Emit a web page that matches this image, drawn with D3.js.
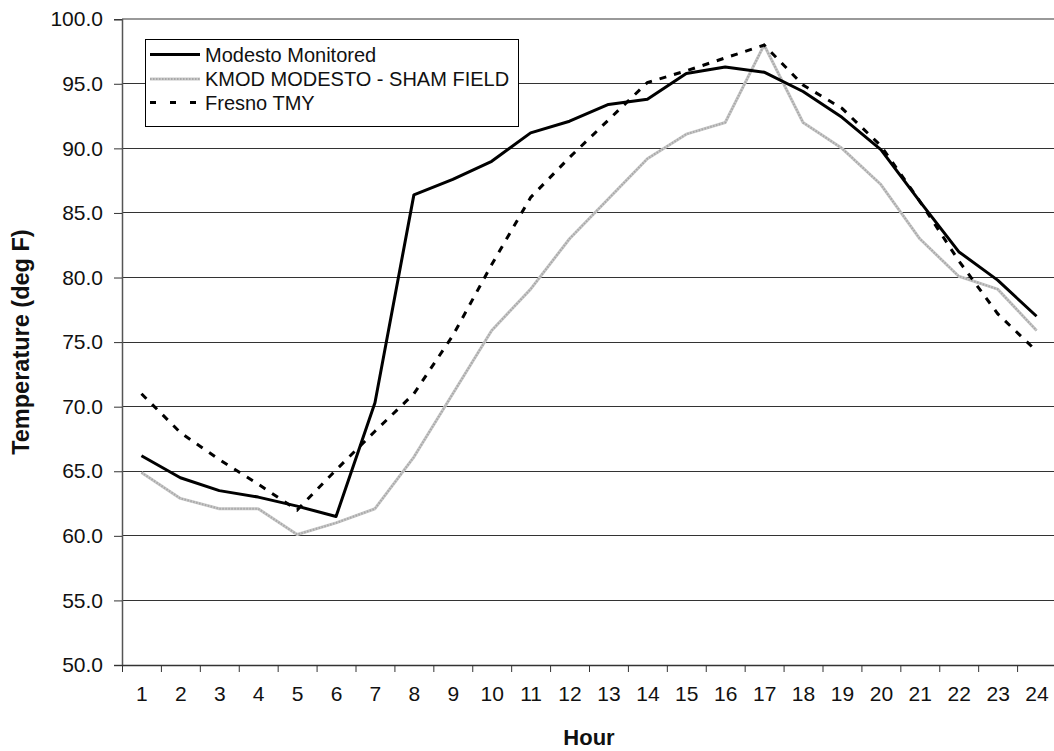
<!DOCTYPE html>
<html>
<head>
<meta charset="utf-8">
<script src="https://cdn.jsdelivr.net/npm/d3@7"></script>
<style>
  html, body { margin: 0; padding: 0; background: #fff; }
  svg { display: block; font-family: "Liberation Sans", Arial, sans-serif; }
</style>
</head>
<body>
<svg id="chart" width="1054" height="751"></svg>
<script>
const hours = [1,2,3,4,5,6,7,8,9,10,11,12,13,14,15,16,17,18,19,20,21,22,23,24];
const modestoMonitored = [66.2,64.5,63.5,63.0,62.3,61.5,70.3,86.4,87.6,89.0,91.2,92.1,93.4,93.8,95.8,96.3,95.9,94.4,92.4,89.9,85.9,82.0,79.8,77.0];
const kmodModesto = [64.9,62.9,62.1,62.1,60.1,61.0,62.1,66.1,71.0,75.9,79.1,83.0,86.1,89.2,91.1,92.0,98.0,92.0,90.0,87.2,83.0,80.1,79.1,75.9];
const fresnoTMY = [71.0,68.0,65.9,64.0,62.0,65.1,68.1,71.0,75.5,81.0,86.2,89.3,92.2,95.1,96.0,97.0,98.0,94.9,93.1,90.2,85.9,81.3,77.2,74.3];
const seriesNames = ["Modesto Monitored","KMOD MODESTO - SHAM FIELD","Fresno TMY"];
const yTicks = [50,55,60,65,70,75,80,85,90,95,100];
const xTitle = "Hour";
const yTitle = "Temperature (deg F)";

(function () {
const svg = d3.select("#chart");
const pLeft = 122, pRight = 1056, pTop = 19.2, pBottom = 665;

const x = d3.scaleLinear().domain([0.5, 24.5]).range([pLeft, pRight]);
const y = d3.scaleLinear().domain([50, 100]).range([pBottom, pTop]);

// gridlines
svg.append("g").selectAll("line")
  .data(yTicks.filter(v => v > 50))
  .join("line")
  .attr("x1", pLeft).attr("x2", pRight)
  .attr("y1", d => y(d)).attr("y2", d => y(d))
  .attr("stroke", d => d === 100 ? "#999" : "#333")
  .attr("stroke-width", d => d === 100 ? 2 : 1)
  .attr("shape-rendering", "crispEdges");

// y axis
const yAxis = svg.append("g")
  .attr("transform", `translate(${pLeft},0)`)
  .call(d3.axisLeft(y).tickValues(yTicks).tickFormat(d3.format(".1f")).tickSize(8).tickPadding(11));
yAxis.select(".domain").attr("stroke", "#555").attr("stroke-width", 1.5);
yAxis.selectAll(".tick line").attr("stroke", "#333");
yAxis.selectAll("text").attr("font-size", 21).attr("fill", "#111")
  .attr("font-family", "Liberation Sans, Arial, sans-serif");

// x axis: boundary ticks
const xBound = svg.append("g")
  .attr("transform", `translate(0,${pBottom})`)
  .call(d3.axisBottom(x).tickValues(d3.range(0.5, 25, 1)).tickFormat("").tickSize(7).tickSizeOuter(0));
xBound.select(".domain").attr("stroke", "#333").attr("stroke-width", 1.5);
xBound.selectAll(".tick line").attr("stroke", "#333");

// x axis labels
const xLab = svg.append("g")
  .attr("transform", `translate(0,${pBottom})`)
  .call(d3.axisBottom(x).tickValues(hours).tickFormat(d3.format("d")).tickSize(0).tickPadding(21));
xLab.select(".domain").remove();
xLab.selectAll("text").attr("font-size", 21).attr("fill", "#111")
  .attr("font-family", "Liberation Sans, Arial, sans-serif");

// axis titles
svg.append("text")
  .attr("x", (pLeft + pRight) / 2).attr("y", 745)
  .attr("text-anchor", "middle")
  .attr("font-size", 22).attr("font-weight", "bold").attr("fill", "#111")
  .text(xTitle);
svg.append("text")
  .attr("transform", `translate(29,${(pTop + pBottom) / 2}) rotate(-90)`)
  .attr("text-anchor", "middle")
  .attr("font-size", 23.5).attr("font-weight", "bold").attr("fill", "#111")
  .text(yTitle);

const line = d3.line().x((d, i) => x(hours[i])).y(d => y(d));

// KMOD gray textured
svg.append("path").datum(kmodModesto)
  .attr("d", line).attr("fill", "none")
  .attr("stroke", "#c8c8c8").attr("stroke-width", 3).attr("stroke-linejoin", "round");
svg.append("path").datum(kmodModesto)
  .attr("d", line).attr("fill", "none")
  .attr("stroke", "#a8a8a8").attr("stroke-width", 2).attr("stroke-dasharray", "1.5,1.5");

// Modesto monitored
svg.append("path").datum(modestoMonitored)
  .attr("d", line).attr("fill", "none")
  .attr("stroke", "#000").attr("stroke-width", 3).attr("stroke-linejoin", "round");

// Fresno TMY
svg.append("path").datum(fresnoTMY)
  .attr("d", line).attr("fill", "none")
  .attr("stroke", "#000").attr("stroke-width", 3).attr("stroke-dasharray", "7,8");

// legend
const lg = svg.append("g");
lg.append("rect").attr("x", 145.5).attr("y", 39.5).attr("width", 373).attr("height", 87)
  .attr("fill", "#fff").attr("stroke", "#000").attr("stroke-width", 1);
const legY = [54.5, 79, 102.5];
const styles = [
  {stroke: "#000", w: 3, dash: null},
  {stroke: "#c8c8c8", w: 3, dash: null, over: "#a8a8a8"},
  {stroke: "#000", w: 3, dash: "6,14"}
];
seriesNames.forEach((name, i) => {
  const s = styles[i];
  const ln = lg.append("line").attr("x1", 150).attr("x2", 200)
    .attr("y1", legY[i]).attr("y2", legY[i])
    .attr("stroke", s.stroke).attr("stroke-width", s.w);
  if (s.dash) ln.attr("stroke-dasharray", s.dash);
  if (s.over) {
    lg.append("line").attr("x1", 150).attr("x2", 200)
      .attr("y1", legY[i]).attr("y2", legY[i])
      .attr("stroke", s.over).attr("stroke-width", 2).attr("stroke-dasharray", "1.5,1.5");
  }
  lg.append("text").attr("x", 205).attr("y", legY[i] + 7)
    .attr("font-size", 20).attr("fill", "#111").text(name);
});
})();
</script>
</body>
</html>
